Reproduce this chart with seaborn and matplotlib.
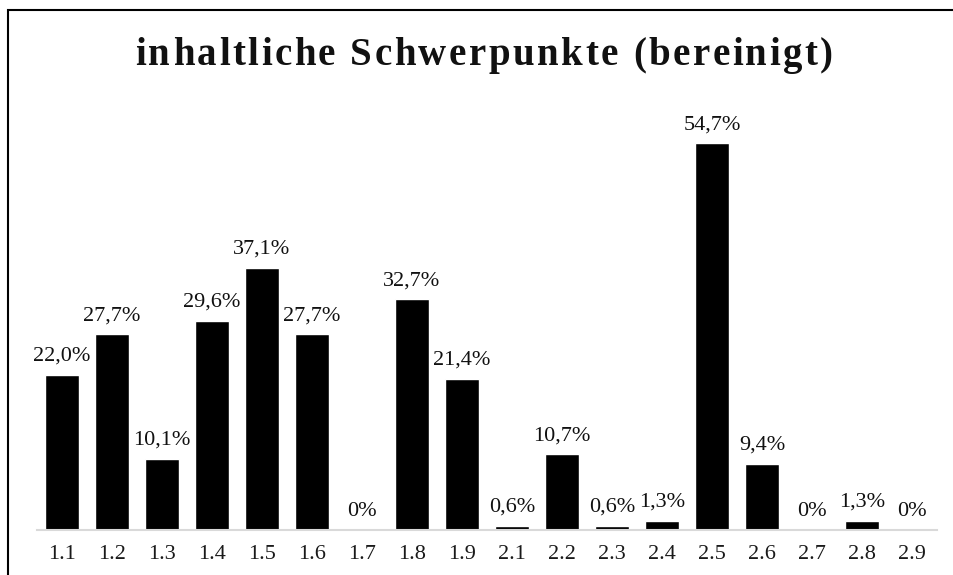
import matplotlib
matplotlib.use("Agg")
import matplotlib.pyplot as plt
import seaborn as sns
import pandas as pd
from matplotlib.patches import Rectangle
from matplotlib.font_manager import FontProperties

# Kategorien und Anteile (%)
categories = ["1.1", "1.2", "1.3", "1.4", "1.5", "1.6", "1.7", "1.8", "1.9",
              "2.1", "2.2", "2.3", "2.4", "2.5", "2.6", "2.7", "2.8", "2.9"]
values = [22.0, 27.7, 10.1, 29.6, 37.1, 27.7, 0.0, 32.7, 21.4,
          0.6, 10.7, 0.6, 1.3, 54.7, 9.4, 0.0, 1.3, 0.0]
labels = ["0%" if v == 0 else f"{v:.1f}%".replace(".", ",") for v in values]
title = "inhaltliche Schwerpunkte (bereinigt)"

df = pd.DataFrame({"kat": categories, "wert": values})

sns.set_style("white")
plt.rcParams["font.family"] = ["Liberation Serif", "DejaVu Serif"]

W, H = 954, 575
fig = plt.figure(figsize=(W / 100, H / 100), dpi=100)
ax = fig.add_axes([37 / W, 45 / H, 900 / W, 424 / H])

sns.barplot(data=df, x="kat", y="wert", color="black", width=0.67,
            saturation=1, ax=ax)

for i, (v, lab) in enumerate(zip(values, labels)):
    ax.text(i, v + 1.95, lab, ha="center", va="baseline", fontsize=16, color="#111111")

ax.set_ylim(0, 60)
ax.set_xlim(-0.5, len(categories) - 0.5)
ax.set_xlabel("")
ax.set_ylabel("")
ax.set_yticks([])
ax.tick_params(axis="x", length=0, pad=11, labelsize=16, labelcolor="#1a1a1a")
for s in ["top", "right", "left"]:
    ax.spines[s].set_visible(False)
ax.spines["bottom"].set_color("#d9d9d9")
ax.spines["bottom"].set_linewidth(1.5)

# Titel mit Sperrung (Buchstabenabstand), Zeichen einzeln gesetzt
fp = FontProperties(family="Liberation Serif", weight="bold", size=28)
renderer = fig.canvas.get_renderer()
def tw(s):
    if not s:
        return 0.0
    return renderer.get_text_width_height_descent(s, fp, ismath=False)[0]
target = 698.0
gap = (target - tw(title)) / (len(title) - 1)
x0 = 484 - target / 2
for i, ch in enumerate(title):
    if ch == " ":
        continue
    xp = x0 + tw(title[:i]) + i * gap
    fig.text(xp / W, 1 - 65 / H, ch, ha="left", va="baseline",
             fontproperties=fp, color="#111111")

# Rahmen um das Diagramm
fig.patches.append(Rectangle((8 / W, -0.1), 1.0, 1 - 10 / H + 0.1,
                             transform=fig.transFigure, fill=False,
                             edgecolor="black", linewidth=1.5))

fig.savefig("out.png", dpi=100)
